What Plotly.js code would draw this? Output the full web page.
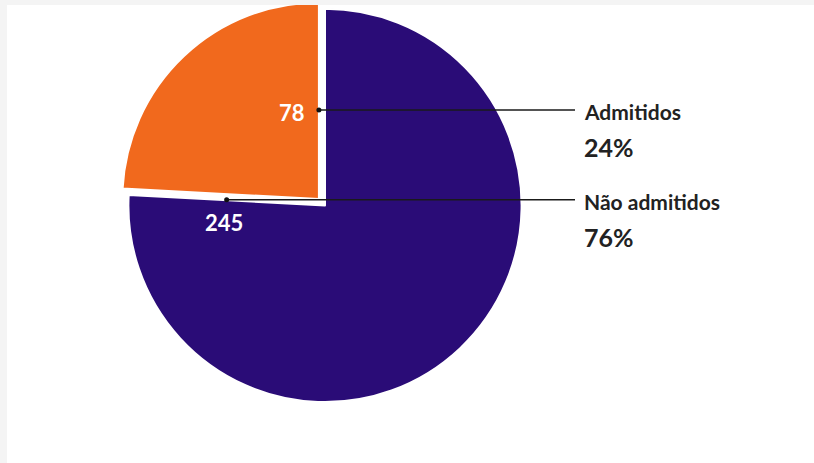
<!DOCTYPE html>
<html><head><meta charset="utf-8">
<script src="https://cdn.plot.ly/plotly-3.0.1.min.js"></script>
<style>html,body{margin:0;padding:0;background:#fff;}#chart{width:814px;height:463px;}</style>
</head><body><div id="chart"></div>
<script>
// Data
const labels = ['Admitidos', 'Não admitidos'];
const values = [78, 245];
const colors = ['#F1691D', '#2A0C77'];
const pulls = [0.045, 0];

// Geometry / style (pixels)
const W = 814, H = 463;
const CX = 325, CY = 205, R = 197;
const dotFrac = [0.45, 0.5];
const lineEndX = 575, labelX = 582;
const px = x => x / W, py = y => 1 - y / H;

const maxPull = Math.max(...pulls);
const half = R * (1 + maxPull);
const domain = {x: [px(CX - half), px(CX + half)], y: [Math.max(0, py(CY + half)), Math.min(1, py(CY - half))]};

const total = values.reduce((a, b) => a + b, 0);
const deg = Math.PI / 180;
let start = 90;
const shapes = [], annotations = [];
values.forEach((v, i) => {
  const span = 360 * v / total;
  const mid = start + span / 2;
  const cx = CX + pulls[i] * R * Math.cos(mid * deg);
  const cy = CY - pulls[i] * R * Math.sin(mid * deg);
  const dx = cx + dotFrac[i] * R * Math.cos(start * deg);
  const dy = cy - dotFrac[i] * R * Math.sin(start * deg);
  shapes.push({type: 'line', xref: 'paper', yref: 'paper', x0: px(dx), x1: px(lineEndX), y0: py(dy), y1: py(dy),
    line: {color: '#1a1a1a', width: 1.5}, layer: 'above'});
  shapes.push({type: 'circle', xref: 'paper', yref: 'paper', xsizemode: 'pixel', ysizemode: 'pixel',
    xanchor: px(dx), yanchor: py(dy), x0: -2.5, x1: 2.5, y0: -2.5, y1: 2.5,
    fillcolor: '#111', line: {width: 0}, layer: 'above'});
  // value label inside the slice
  if (i === 0) {
    annotations.push({xref: 'paper', yref: 'paper', x: px(dx - 12), y: py(dy + 3), xanchor: 'right', yanchor: 'middle',
      text: '<b>' + v + '</b>', showarrow: false, font: {family: 'Lato', size: 22, color: '#fff'}});
  } else {
    annotations.push({xref: 'paper', yref: 'paper', x: px(dx - 3), y: py(dy + 23), xanchor: 'center', yanchor: 'middle',
      text: '<b>' + v + '</b>', showarrow: false, font: {family: 'Lato', size: 22, color: '#fff'}});
  }
  // name and percentage on the right
  annotations.push({xref: 'paper', yref: 'paper', x: px(labelX), y: py(dy + 2), xanchor: 'left', yanchor: 'middle',
    text: '<b>' + labels[i] + '</b>', showarrow: false, font: {family: 'Lato', size: 21, color: '#222'}});
  annotations.push({xref: 'paper', yref: 'paper', x: px(labelX), y: py(dy + 37), xanchor: 'left', yanchor: 'middle',
    text: '<b>' + Math.round(v / total * 100) + '%</b>', showarrow: false, font: {family: 'Lato', size: 25, color: '#222'}});
  start += span;
});

// page frame strips
shapes.push({type: 'rect', xref: 'paper', yref: 'paper', x0: 0, x1: px(7), y0: 0, y1: 1, fillcolor: '#f4f4f4', line: {width: 0}, layer: 'above'});
shapes.push({type: 'rect', xref: 'paper', yref: 'paper', x0: 0, x1: 1, y0: py(5), y1: 1, fillcolor: '#f4f4f4', line: {width: 0}, layer: 'above'});

const data = [{
  type: 'pie', labels: labels, values: values, sort: false, direction: 'counterclockwise',
  rotation: -360 * values[0] / total,
  pull: pulls, marker: {colors: colors, line: {color: '#fff', width: 2}},
  textinfo: 'none', hoverinfo: 'label+value+percent', domain: domain, showlegend: false
}];
const layout = {width: W, height: H, margin: {l: 0, r: 0, t: 0, b: 0}, paper_bgcolor: '#fff',
  showlegend: false, shapes: shapes, annotations: annotations};
Plotly.newPlot('chart', data, layout, {displayModeBar: false, staticPlot: true});
</script></body></html>
